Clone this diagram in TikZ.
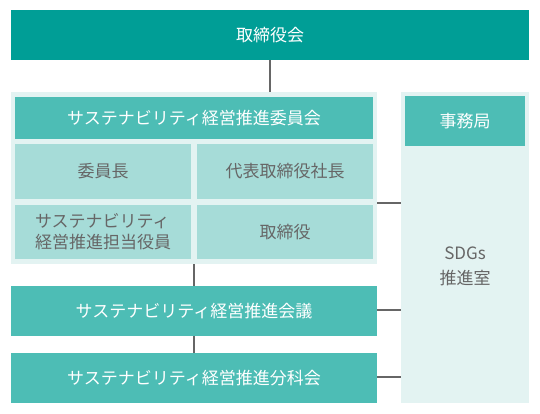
\documentclass[tikz,border=0pt]{standalone}
\usepackage{fontspec}
\setmainfont{Noto Sans CJK JP}
\definecolor{dteal}{HTML}{009E96}
\definecolor{mteal}{HTML}{4DBDB5}
\definecolor{lteal}{HTML}{A6DCD8}
\definecolor{pale}{HTML}{E3F3F2}
\definecolor{txtgray}{HTML}{666666}
\definecolor{linegray}{HTML}{666666}
\tikzset{
  box/.style={rectangle, inner sep=0pt, outer sep=0pt, font=\fontsize{17}{21}\selectfont},
  darkbox/.style={box, fill=dteal, text=white},
  midbox/.style={box, fill=mteal, text=white},
  cellbox/.style={box, fill=lteal, text=txtgray},
  panel/.style={box, fill=pale},
  conn/.style={draw=linegray, line width=1.6pt},
}
\begin{document}
\begin{tikzpicture}[x=1pt,y=-1pt]
\useasboundingbox (0,0) rectangle (540,414);
\node[darkbox, minimum width=518pt, minimum height=50pt] (top) at (270,35) {取締役会};
\node[panel, minimum width=366pt, minimum height=172pt] (lp) at (194,178) {};
\node[midbox, minimum width=358pt, minimum height=42pt] (hdr) at (194,118) {サステナビリティ経営推進委員会};
\node[cellbox, minimum width=176pt, minimum height=55pt] (c1) at (103,171.5) {委員長};
\node[cellbox, minimum width=176pt, minimum height=55pt] (c2) at (285,171.5) {代表取締役社長};
\node[cellbox, minimum width=176pt, minimum height=54pt, align=left, font=\fontsize{17}{21}\selectfont] (c3) at (103,232) {サステナビリティ\\経営推進担当役員};
\node[cellbox, minimum width=176pt, minimum height=54pt] (c4) at (285,232) {取締役};
\node[panel, minimum width=128pt, minimum height=311pt] (rp) at (465,247.5) {};
\node[midbox, minimum width=120pt, minimum height=50pt] (jim) at (465,121) {事務局};
\node[box, text=txtgray, align=center, font=\fontsize{17}{25}\selectfont] (sdg) at (465,266) {SDGs\\推進室};
\node[midbox, minimum width=366pt, minimum height=50pt] (kaigi) at (194,311) {サステナビリティ経営推進会議};
\node[midbox, minimum width=366pt, minimum height=50pt] (bunka) at (194,378) {サステナビリティ経営推進分科会};
\draw[conn] (top.south) -- (top.south |- lp.north);
\draw[conn] (lp.south) -- (kaigi.north);
\draw[conn] (kaigi.south) -- (bunka.north);
\draw[conn] ([yshift=-25pt]lp.east) -- ([yshift=-25pt]lp.east -| rp.west);
\draw[conn] ([yshift=1pt]kaigi.east) -- ([yshift=1pt]kaigi.east -| rp.west);
\draw[conn] ([yshift=1pt]bunka.east) -- ([yshift=1pt]bunka.east -| rp.west);
\end{tikzpicture}
\end{document}
